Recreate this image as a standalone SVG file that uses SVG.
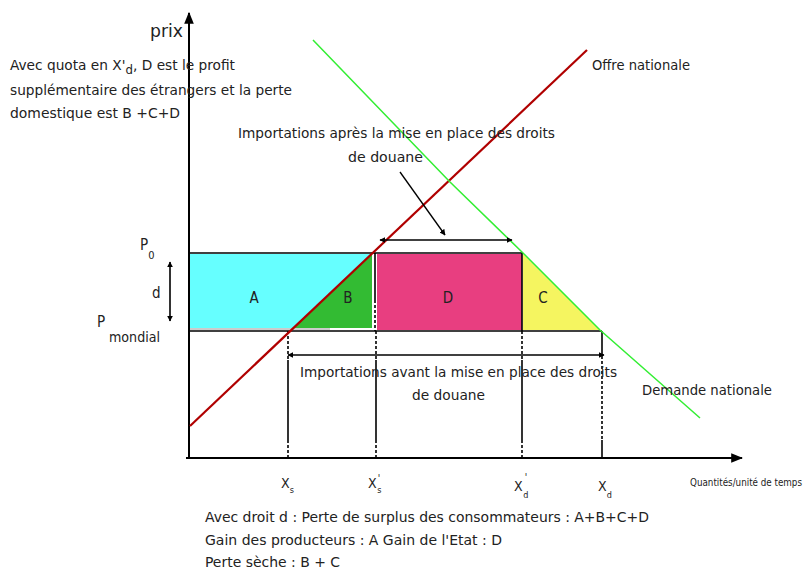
<svg xmlns="http://www.w3.org/2000/svg" width="807" height="571" viewBox="0 0 807 571" font-size="14">
<style>
text{font-family:"Liberation Sans Narrow","DejaVu Sans Condensed","Liberation Sans",sans-serif;font-stretch:condensed;fill:#222}
.ax{stroke:#000;stroke-width:2;fill:none}
.ln{stroke:#000;stroke-width:1.6;fill:none}
.dash{stroke:#000;stroke-width:1.6;fill:none;stroke-dasharray:3 2}
.lab{text-anchor:middle}
</style>
<defs>
<marker id="ah" viewBox="0 0 10 10" refX="9" refY="5" markerWidth="6" markerHeight="6" orient="auto-start-reverse" markerUnits="userSpaceOnUse"><path d="M0,0 L10,5 L0,10 z" fill="#000"/></marker>
<marker id="big" viewBox="0 0 10 10" refX="9" refY="5" markerWidth="12" markerHeight="12" orient="auto" markerUnits="userSpaceOnUse"><path d="M0,1 L10,5 L0,9 z" fill="#000"/></marker>
</defs>

<g id="areas">
<rect x="190" y="254" width="182" height="74" fill="#66ffff"/>
<polygon points="293,328 372,254 372,328" fill="#33bb33"/>
<rect x="377" y="254" width="145" height="76" fill="#e83e80"/>
<polygon points="523,254 523,330 600,330" fill="#f5f560"/>
</g>

<g id="axes">
<line class="ax" x1="189" y1="458" x2="189" y2="13" marker-end="url(#big)"/>
<line class="ax" x1="186" y1="458" x2="742" y2="458" marker-end="url(#big)"/>
<text x="150" y="37" font-size="17" textLength="33" lengthAdjust="spacingAndGlyphs">prix</text>
</g>

<g id="connectors">
<line class="ln" x1="189" y1="253" x2="523" y2="253"/>
<line class="ln" x1="189" y1="331" x2="602" y2="331"/>
<line x1="190" y1="329" x2="330" y2="329" stroke="#999" stroke-width="1"/>
<line class="ln" x1="375" y1="253" x2="375" y2="300"/>
<line class="dash" x1="375" y1="300" x2="375" y2="331"/>
<line class="ln" x1="522" y1="253" x2="522" y2="331"/>
<line class="dash" x1="288" y1="331" x2="288" y2="360"/>
<line class="ln" x1="288" y1="360" x2="288" y2="440"/>
<line class="dash" x1="288" y1="440" x2="288" y2="458"/>
<line class="dash" x1="376" y1="331" x2="376" y2="360"/>
<line class="ln" x1="376" y1="360" x2="376" y2="440"/>
<line class="dash" x1="376" y1="440" x2="376" y2="458"/>
<line class="dash" x1="522" y1="331" x2="522" y2="360"/>
<line class="ln" x1="522" y1="360" x2="522" y2="440"/>
<line class="dash" x1="522" y1="440" x2="522" y2="458"/>
<line class="ln" x1="602" y1="331" x2="602" y2="356"/>
<line class="dash" x1="602" y1="356" x2="602" y2="440"/>
<line class="ln" x1="602" y1="440" x2="602" y2="458"/>
<line x1="190" y1="426" x2="587" y2="50" stroke="#b00000" stroke-width="2.2"/>
<polyline points="313,40 450,182 523,253 600,330 700,418" fill="none" stroke="#33ee33" stroke-width="1.5"/>
<line class="ln" x1="380" y1="240" x2="512" y2="240" marker-start="url(#ah)" marker-end="url(#ah)"/>
<line class="ln" x1="288" y1="355" x2="604" y2="355" marker-start="url(#ah)" marker-end="url(#ah)"/>
<line x1="400" y1="172" x2="445" y2="235" stroke="#000" stroke-width="1.3" marker-end="url(#ah)"/>
<line class="ln" x1="170" y1="262" x2="170" y2="321" marker-start="url(#ah)" marker-end="url(#ah)"/>
</g>

<g id="labels">
<text class="lab" x="254" y="303" font-size="15">A</text>
<text class="lab" x="348" y="303" font-size="15">B</text>
<text class="lab" x="448" y="303" font-size="15">D</text>
<text class="lab" x="543" y="303" font-size="15">C</text>
<text x="140" y="250" font-size="15">P<tspan dy="9" font-size="11">0</tspan></text>
<text x="152" y="298" font-size="15">d</text>
<text x="97" y="327" font-size="15">P</text>
<text x="109" y="342" font-size="14" textLength="51" lengthAdjust="spacingAndGlyphs">mondial</text>
</g>

<g id="notes">
<text x="10" y="70" font-size="14" textLength="225" lengthAdjust="spacingAndGlyphs">Avec quota en X'<tspan dy="4" font-size="12">d</tspan><tspan dy="-4">, D est le profit</tspan></text>
<text x="10" y="95" font-size="14" textLength="282" lengthAdjust="spacingAndGlyphs">supplémentaire des étrangers et la perte</text>
<text x="10" y="118" font-size="14" textLength="170" lengthAdjust="spacingAndGlyphs">domestique est B +C+D</text>
<text x="238" y="138" font-size="14" textLength="317" lengthAdjust="spacingAndGlyphs">Importations après la mise en place des droits</text>
<text x="348" y="162" font-size="14" textLength="75" lengthAdjust="spacingAndGlyphs">de douane</text>
<text x="300" y="377" font-size="14" textLength="317" lengthAdjust="spacingAndGlyphs">Importations avant la mise en place des droits</text>
<text x="412" y="400" font-size="14" textLength="73" lengthAdjust="spacingAndGlyphs">de douane</text>
<text x="592" y="70" font-size="14" textLength="98" lengthAdjust="spacingAndGlyphs">Offre nationale</text>
<text x="642" y="395" font-size="14" textLength="130" lengthAdjust="spacingAndGlyphs">Demande nationale</text>
<text x="690" y="486" font-size="10" textLength="112" lengthAdjust="spacingAndGlyphs">Quantités/unité de temps</text>
</g>

<g id="xlabels">
<text x="281" y="488" font-size="14">X<tspan dy="5" font-size="9">s</tspan></text>
<text x="368" y="488" font-size="14">X<tspan dx="1" dy="-6" font-size="10">'</tspan><tspan dx="-3" dy="11" font-size="9">s</tspan></text>
<text x="514" y="491" font-size="14">X<tspan dx="2" dy="-10" font-size="10">'</tspan><tspan dx="-4" dy="17" font-size="9">d</tspan></text>
<text x="598" y="491" font-size="14">X<tspan dy="7" font-size="9">d</tspan></text>
</g>

<g id="footer">
<text x="205" y="522" font-size="14" textLength="444" lengthAdjust="spacingAndGlyphs">Avec droit d : Perte de surplus des consommateurs : A+B+C+D</text>
<text x="205" y="545" font-size="14" textLength="297" lengthAdjust="spacingAndGlyphs">Gain des producteurs : A  Gain de l'Etat : D</text>
<text x="205" y="567" font-size="14" textLength="135" lengthAdjust="spacingAndGlyphs">Perte sèche : B + C</text>
</g>
</svg>
